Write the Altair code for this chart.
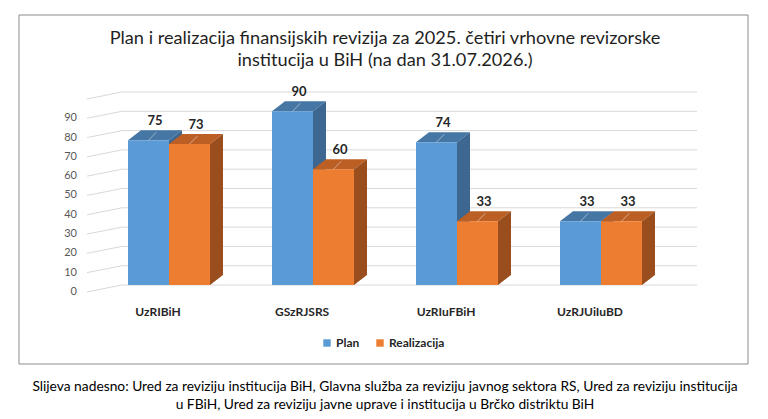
import altair as alt
import pandas as pd

categories = ["UzRIBiH", "GSzRJSRS", "UzRIuFBiH", "UzRJUiIuBD"]
series = ["Plan", "Realizacija"]
plan = [75, 90, 74, 33]
realizacija = [73, 60, 33, 33]
y_ticks = [0, 10, 20, 30, 40, 50, 60, 70, 80, 90, 100]
y_labels = [0, 10, 20, 30, 40, 50, 60, 70, 80, 90]

title_lines = [
    "Plan i realizacija finansijskih  revizija za 2025. četiri vrhovne revizorske",
    "institucija u BiH (na dan 31.07.2026.)",
]
footer_lines = [
    "Slijeva nadesno: Ured za reviziju institucija BiH, Glavna služba za reviziju javnog sektora RS, Ured za reviziju institucija",
    "u FBiH, Ured za reviziju javne uprave i institucija u Brčko distriktu BiH",
]

front_colors = {"Plan": "#5B9BD5", "Realizacija": "#ED7D31"}
top_colors = {"Plan": "#4676A4", "Realizacija": "#BB5F25"}
side_colors = {"Plan": "#3D6791", "Realizacija": "#9A4D1D"}

FONT = "Lato"
W, H = 576, 193
BAR = 41 / 144   # width of one bar, in category units
DX = 13 / 144    # 3d depth along x
DY = 5.2         # 3d depth along y (value units)

# front faces
rows = []
for i, cat in enumerate(categories):
    for s, vals in zip(series, [plan, realizacija]):
        x0 = i - BAR if s == "Plan" else i
        rows.append(dict(cat=cat, idx=i, series=s, v=vals[i], x0=x0, x1=x0 + BAR))
bars = pd.DataFrame(rows)

# top and side faces of the 3d bars
face_rows = []
for k, b in bars.iterrows():
    v, x0, x1, s = b.v, b.x0, b.x1, b.series
    for x, y, y2 in [(x0, v, v), (x0 + DX, v + DY, v), (x1, v + DY, v), (x1 + DX, v + DY, v + DY)]:
        face_rows.append(dict(fid=f"t{k}", series=s, x=x, y=y, y2=y2, col=top_colors[s]))
    for x, y, y2 in [(x1, v, 0), (x1 + DX, v + DY, DY)]:
        face_rows.append(dict(fid=f"s{k}", series=s, x=x, y=y, y2=y2, col=side_colors[s]))
faces = pd.DataFrame(face_rows)

xs = alt.Scale(domain=[-0.5, 3.5], nice=False, zero=False)
ys = alt.Scale(domain=[0, 100], nice=False)

grid_df = pd.DataFrame({"t": y_ticks})
grid = (
    alt.Chart(grid_df)
    .mark_rule(color="#d9d9d9", strokeWidth=1)
    .encode(x=alt.value(25), x2=alt.value(600), y=alt.Y("t:Q", scale=ys, axis=None))
)
diag = (
    alt.Chart(grid_df)
    .transform_calculate(t_lo="datum.t - 3.6")
    .mark_rule(color="#d9d9d9", strokeWidth=1)
    .encode(
        x=alt.value(-10),
        x2=alt.value(25),
        y=alt.Y("t_lo:Q", scale=ys, axis=None),
        y2="t:Q",
    )
)
ylab = (
    alt.Chart(pd.DataFrame({"t": y_labels}))
    .transform_calculate(t_lo="datum.t - 3.6")
    .mark_text(font=FONT, fontSize=11, color="#595959", align="right", baseline="middle")
    .encode(x=alt.value(-20), y=alt.Y("t_lo:Q", scale=ys, axis=None), text="t:Q")
)


def face_layer(s):
    return (
        alt.Chart(faces[faces.series == s])
        .mark_area(strokeWidth=0)
        .encode(
            x=alt.X("x:Q", scale=xs, axis=None),
            y=alt.Y("y:Q", scale=ys, axis=None),
            y2="y2:Q",
            detail="fid:N",
            fill=alt.Fill("col:N", scale=None),
        )
    )


front = (
    alt.Chart(bars)
    .transform_calculate(zero="0")
    .mark_rect()
    .encode(
        x=alt.X("x0:Q", scale=xs, axis=None),
        x2="x1:Q",
        y=alt.Y("v:Q", scale=ys, axis=None),
        y2="zero:Q",
        color=alt.Color(
            "series:N",
            scale=alt.Scale(domain=series, range=[front_colors[s] for s in series]),
            legend=alt.Legend(
                orient="none",
                legendX=224,
                legendY=245,
                direction="horizontal",
                title=None,
                symbolType="square",
                symbolSize=55,
                symbolStrokeWidth=0,
                labelFont=FONT,
                labelFontSize=12,
                labelFontWeight="bold",
                labelColor="#262626",
                columnPadding=14,
                labelOffset=3,
            ),
        ),
    )
)

leader = (
    alt.Chart(bars)
    .transform_calculate(
        xc="(datum.x0 + datum.x1) / 2",
        xe=f"(datum.x0 + datum.x1) / 2 + {DX * 0.6}",
        ye=f"datum.v + {DY * 0.8}",
    )
    .mark_rule(color="white", opacity=0.45, strokeWidth=1)
    .encode(
        x=alt.X("xc:Q", scale=xs, axis=None),
        x2="xe:Q",
        y=alt.Y("v:Q", scale=ys, axis=None),
        y2="ye:Q",
    )
)

labels = (
    alt.Chart(bars)
    .transform_calculate(xl=f"(datum.x0 + datum.x1) / 2 + {DX / 2}")
    .mark_text(font=FONT, fontSize=13, fontWeight="bold", color="#262626", baseline="bottom", dy=-12)
    .encode(
        x=alt.X("xl:Q", scale=xs, axis=None),
        y=alt.Y("v:Q", scale=ys, axis=None),
        text="v:Q",
    )
)

cat_labels = (
    alt.Chart(pd.DataFrame({"cat": categories, "idx": list(range(len(categories)))}))
    .transform_calculate(xl="datum.idx - 0.076")
    .mark_text(font=FONT, fontSize=12, fontWeight="bold", color="#262626", baseline="middle")
    .encode(x=alt.X("xl:Q", scale=xs, axis=None), y=alt.value(220), text="cat:N")
)

title = (
    alt.Chart(pd.DataFrame({"a": [0]}))
    .mark_text(font=FONT, fontSize=18.2, color="#1f1f1f", baseline="middle", lineHeight=22, text=title_lines)
    .encode(x=alt.value(288), y=alt.value(-53))
)

footer = (
    alt.Chart(pd.DataFrame({"a": [0]}))
    .mark_text(font=FONT, fontSize=13.8, color="#000000", baseline="middle", lineHeight=18, text=footer_lines)
    .encode(x=alt.value(288), y=alt.value(295))
)

frame = (
    alt.Chart(pd.DataFrame({"a": [0]}))
    .mark_rect(fillOpacity=0, stroke="#8c8c8c", strokeWidth=1)
    .encode(x=alt.value(-78), x2=alt.value(651), y=alt.value(-77), y2=alt.value(272))
)

chart = (
    alt.layer(
        frame, grid, diag, ylab,
        face_layer("Plan"), face_layer("Realizacija"),
        front, leader, labels, cat_labels, title, footer,
    )
    .properties(
        width=W,
        height=H,
        background="white",
        autosize=alt.AutoSizeParams(type="none"),
        padding={"left": 89, "top": 84, "right": 80, "bottom": 126},
    )
    .configure_view(stroke=None)
)

chart.save("out.html", embed_options={"renderer": "svg", "actions": False})
